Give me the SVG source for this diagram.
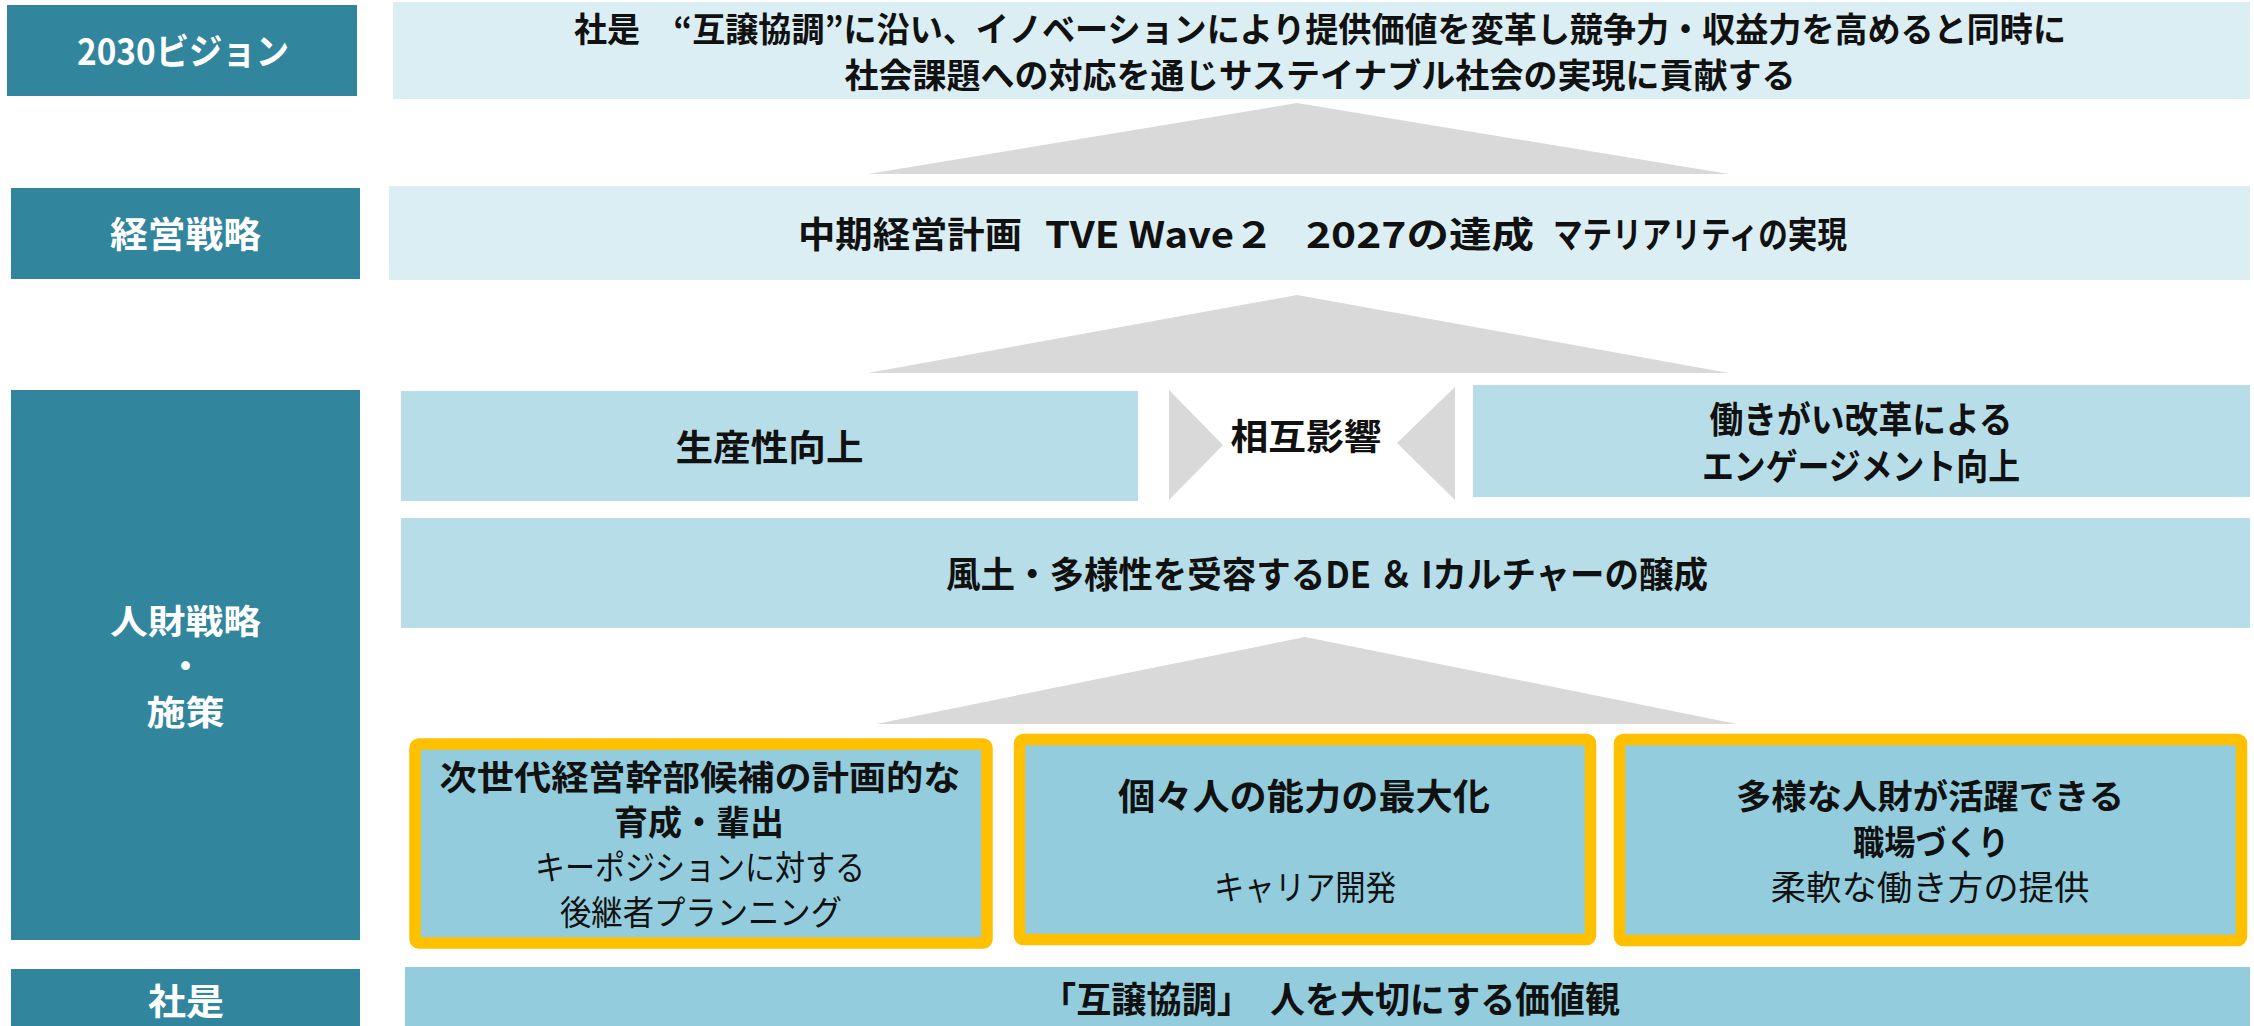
<svg xmlns="http://www.w3.org/2000/svg" width="2254" height="1026" viewBox="0 0 2254 1026">
<style>
text{font-family:'Noto Sans CJK JP','Noto Sans',sans-serif;text-anchor:middle}
.b{font-weight:700;font-size:36px;fill:#111}
.r{font-weight:400;font-size:34px;fill:#111}
.w{font-weight:700;font-size:36px;fill:#fff}
.s{font-size:34px}
.v{font-weight:700;font-size:34px;fill:#111}
.lab{fill:#31859C}
.l1{fill:#DAEEF3}
.l2{fill:#B7DEE8}
.l3{fill:#93CDDD}
.tri{fill:#D9D9D9}
.ob{fill:#93CDDD;stroke:#FFC000;stroke-width:11.5}
</style>
<g id="connectors">
<polygon class="tri" points="868,174 1297,103 1729,174"/>
<polygon class="tri" points="868,373 1297,295 1729,373"/>
<polygon class="tri" points="876,724 1305,637 1737,724"/>
<polygon class="tri" points="1169,390 1223,445 1169,500"/>
<polygon class="tri" points="1455,387 1397,443 1455,500"/>
</g>
<g id="label-vision">
<rect class="lab" x="7" y="5" width="350" height="91"/>
<text class="w" x="183" y="65" textLength="212" lengthAdjust="spacingAndGlyphs">2030ビジョン</text>
</g>
<g id="vision">
<rect class="l1" x="393" y="2" width="1857" height="97"/>
<text class="v" x="1320" y="42" textLength="1492" lengthAdjust="spacingAndGlyphs">社是　“互譲協調”に沿い、イノベーションにより提供価値を変革し競争力・収益力を高めると同時に</text>
<text class="v" x="1320" y="88" textLength="951" lengthAdjust="spacingAndGlyphs">社会課題への対応を通じサステイナブル社会の実現に貢献する</text>
</g>
<g id="label-strategy">
<rect class="lab" x="11" y="188" width="349" height="91"/>
<text class="w" x="185.5" y="248" textLength="151" lengthAdjust="spacingAndGlyphs">経営戦略</text>
</g>
<g id="strategy">
<rect class="l1" x="389" y="186" width="1861" height="94"/>
<text class="b" y="248" style="text-anchor:start"><tspan x="798" textLength="224" lengthAdjust="spacingAndGlyphs">中期経営計画</tspan> <tspan x="1045" textLength="229" lengthAdjust="spacingAndGlyphs">TVE Wave２</tspan> <tspan x="1306" textLength="228" lengthAdjust="spacingAndGlyphs">2027の達成</tspan> <tspan x="1553" textLength="294" lengthAdjust="spacingAndGlyphs">マテリアリティの実現</tspan></text>
</g>
<g id="label-hr">
<rect class="lab" x="11" y="390" width="349" height="550"/>
<text class="w s" x="185.5" y="634" textLength="151" lengthAdjust="spacingAndGlyphs">人財戦略</text>
<text class="w s" x="185.5" y="679">・</text>
<text class="w s" x="185.5" y="725" textLength="78" lengthAdjust="spacingAndGlyphs">施策</text>
</g>
<g id="productivity">
<rect class="l2" x="401" y="391" width="737" height="110"/>
<text class="b" x="769.5" y="461" textLength="188" lengthAdjust="spacingAndGlyphs">生産性向上</text>
</g>
<g id="mutual">
<text class="b" x="1306" y="450" textLength="151" lengthAdjust="spacingAndGlyphs">相互影響</text>
</g>
<g id="engagement">
<rect class="l2" x="1473" y="385" width="777" height="112"/>
<text class="b" x="1861" y="433" textLength="303" lengthAdjust="spacingAndGlyphs">働きがい改革による</text>
<text class="b" x="1861" y="480" textLength="318" lengthAdjust="spacingAndGlyphs">エンゲージメント向上</text>
</g>
<g id="culture">
<rect class="l2" x="401" y="518" width="1849" height="110"/>
<text class="b" x="1327" y="588" textLength="762" lengthAdjust="spacingAndGlyphs">風土・多様性を受容するDE ＆ Iカルチャーの醸成</text>
</g>
<g id="measure1">
<rect class="ob" x="415" y="744" width="572" height="199" rx="4"/>
<text class="b s" x="700" y="790" textLength="521" lengthAdjust="spacingAndGlyphs">次世代経営幹部候補の計画的な</text>
<text class="b s" x="699" y="835" textLength="170" lengthAdjust="spacingAndGlyphs">育成・輩出</text>
<text class="r" x="700" y="880" textLength="330" lengthAdjust="spacingAndGlyphs">キーポジションに対する</text>
<text class="r" x="701" y="925" textLength="282" lengthAdjust="spacingAndGlyphs">後継者プランニング</text>
</g>
<g id="measure2">
<rect class="ob" x="1019.5" y="739.5" width="571" height="200" rx="4"/>
<text class="b" x="1304" y="810" textLength="372" lengthAdjust="spacingAndGlyphs">個々人の能力の最大化</text>
<text class="r" x="1305" y="900" textLength="182" lengthAdjust="spacingAndGlyphs">キャリア開発</text>
</g>
<g id="measure3">
<rect class="ob" x="1619.5" y="739.5" width="622" height="201" rx="4"/>
<text class="b s" x="1930" y="809" textLength="388" lengthAdjust="spacingAndGlyphs">多様な人財が活躍できる</text>
<text class="b s" x="1931" y="855" textLength="156" lengthAdjust="spacingAndGlyphs">職場づくり</text>
<text class="r" x="1930" y="900" textLength="319" lengthAdjust="spacingAndGlyphs">柔軟な働き方の提供</text>
</g>
<g id="label-motto">
<rect class="lab" x="11" y="969" width="349" height="57"/>
<text class="w" x="186" y="1015" textLength="76" lengthAdjust="spacingAndGlyphs">社是</text>
</g>
<g id="motto">
<rect class="l3" x="405" y="967" width="1845" height="59"/>
<text class="b" y="1013" style="text-anchor:start"><tspan x="1041" textLength="211" lengthAdjust="spacingAndGlyphs">「互譲協調」</tspan> <tspan x="1270" textLength="350" lengthAdjust="spacingAndGlyphs">人を大切にする価値観</tspan></text>
</g>
</svg>
